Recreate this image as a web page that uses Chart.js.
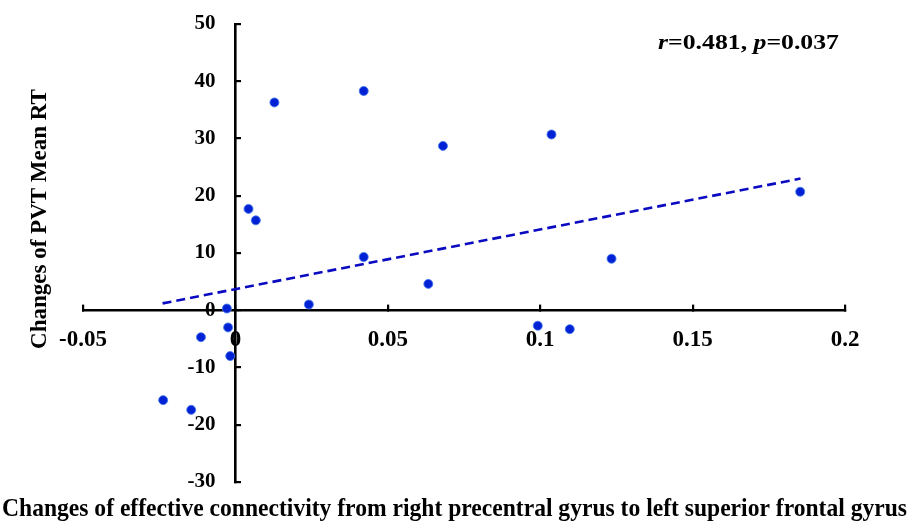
<!DOCTYPE html>
<html>
<head>
<meta charset="utf-8">
<script src="https://cdn.jsdelivr.net/npm/chart.js@4.4.1/dist/chart.umd.min.js"></script>
<style>
  html, body { margin: 0; padding: 0; background: #ffffff; }
  #wrap { width: 912px; height: 522px; position: relative; }
</style>
</head>
<body>
<div id="wrap"><canvas id="c" width="912" height="522"></canvas></div>
<script>
// ---- data ----
const connectivityChange = [0.0128, 0.0421, 0.0681, 0.0043, 0.0067, 0.0421, 0.0633, 0.1037, 0.1234, 0.1853, 0.0241, 0.0992, 0.1097, -0.0028, -0.0024, -0.0113, -0.0017, -0.0237, -0.0145];
const pvtMeanRTChange   = [36.3, 38.3, 28.7, 17.7, 15.7, 9.3, 4.6, 30.7, 9.0, 20.7, 1.0, -2.7, -3.3, 0.3, -3.0, -4.7, -8.0, -15.7, -17.4];
const trendX = [-0.0239, 0.1854];
const trendY = [1.2, 23.0];
const xAxisRange = [-0.05, 0.2];
const yAxisRange = [-30, 50];
const xStep = 0.05;
const yStep = 10;
const xTickLabels = ['-0.05', '0', '0.05', '0.1', '0.15', '0.2'];
const yTickLabels = ['-30', '-20', '-10', '0', '10', '20', '30', '40', '50'];
const xTitle = 'Changes of effective connectivity from right precentral gyrus to left superior frontal gyrus';
const yTitle = 'Changes of PVT Mean RT';
const statR = '0.481';
const statP = '0.037';

const FONT = '"Liberation Serif", "Times New Roman", serif';

const scatterPoints = connectivityChange.map((x, i) => ({x: x, y: pvtMeanRTChange[i]}));
const trendPoints = trendX.map((x, i) => ({x: x, y: trendY[i]}));

// y tick labels sit left of the centred y axis
const yLabelShift = {
  id: 'yLabelShift',
  beforeDraw(chart) {
    const s = chart.scales.y;
    const items = s.getLabelItems();
    if (!items._shifted) {
      items.forEach(it => { it.options.translation[0] -= 20; });
      items._shifted = true;
    }
  }
};

const textPlugin = {
  id: 'extraText',
  afterDraw(chart) {
    const ctx = chart.ctx;
    ctx.save();
    ctx.fillStyle = '#000';
    // x-axis title
    ctx.font = 'bold 25px ' + FONT;
    ctx.textBaseline = 'alphabetic';
    ctx.textAlign = 'left';
    const w = ctx.measureText(xTitle).width;
    ctx.save();
    ctx.translate(2, 516);
    ctx.scale(905 / w, 1);
    ctx.fillText(xTitle, 0, 0);
    ctx.restore();
    // y-axis title
    ctx.save();
    ctx.translate(40, 219);
    ctx.rotate(-Math.PI / 2);
    ctx.textAlign = 'center';
    ctx.textBaseline = 'middle';
    ctx.font = 'bold 23px ' + FONT;
    ctx.fillText(yTitle, 0, 0);
    ctx.restore();
    // statistic annotation
    const parts = [
      ['italic bold 22px ' + FONT, 'r'],
      ['bold 22px ' + FONT, '=' + statR + ', '],
      ['italic bold 22px ' + FONT, 'p'],
      ['bold 22px ' + FONT, '=' + statP]
    ];
    let total = 0;
    for (const [f, t] of parts) { ctx.font = f; total += ctx.measureText(t).width; }
    ctx.save();
    ctx.translate(658, 43);
    ctx.scale(181 / total, 1);
    ctx.textBaseline = 'middle';
    let x = 0;
    for (const [f, t] of parts) {
      ctx.font = f;
      ctx.fillText(t, x, 0);
      x += ctx.measureText(t).width;
    }
    ctx.restore();
    ctx.restore();
  }
};

new Chart(document.getElementById('c'), {
  type: 'scatter',
  data: {
    datasets: [
      {
        label: 'Subjects',
        data: scatterPoints,
        backgroundColor: '#0022d4',
        borderColor: 'rgba(70,120,235,0.85)',
        borderWidth: 1,
        pointRadius: 4.5,
        pointHoverRadius: 4.5,
        order: 1
      },
      {
        label: 'Linear fit',
        type: 'line',
        data: trendPoints,
        borderColor: '#0a0ac0',
        borderWidth: 2.6,
        borderDash: [9, 5],
        pointRadius: 0,
        fill: false,
        order: 2
      }
    ]
  },
  options: {
    responsive: false,
    animation: false,
    layout: { padding: { left: 83, right: 67, top: 24, bottom: 40 } },
    plugins: {
      legend: { display: false },
      tooltip: { enabled: false }
    },
    scales: {
      x: {
        type: 'linear',
        position: { y: 0 },
        min: xAxisRange[0],
        max: xAxisRange[1],
        ticks: {
          stepSize: xStep,
          color: '#000',
          font: { family: FONT, size: 23, weight: 'bold' },
          padding: 23,
          maxRotation: 0,
          autoSkip: false,
          callback: (v, i) => xTickLabels[i]
        },
        grid: { drawOnChartArea: false, drawTicks: true, tickLength: -7, color: '#000', lineWidth: 2.2 },
        border: { display: true, color: '#000', width: 2.6 }
      },
      y: {
        type: 'linear',
        position: { x: 0 },
        min: yAxisRange[0],
        max: yAxisRange[1],
        ticks: {
          stepSize: yStep,
          color: '#000',
          font: { family: FONT, size: 21, weight: 'bold' },
          padding: 0,
          callback: (v, i) => yTickLabels[i]
        },
        grid: { drawOnChartArea: false, drawTicks: true, tickLength: -7, color: '#000', lineWidth: 2.2 },
        border: { display: true, color: '#000', width: 2.6 }
      }
    }
  },
  plugins: [yLabelShift, textPlugin]
});
</script>
</body>
</html>
